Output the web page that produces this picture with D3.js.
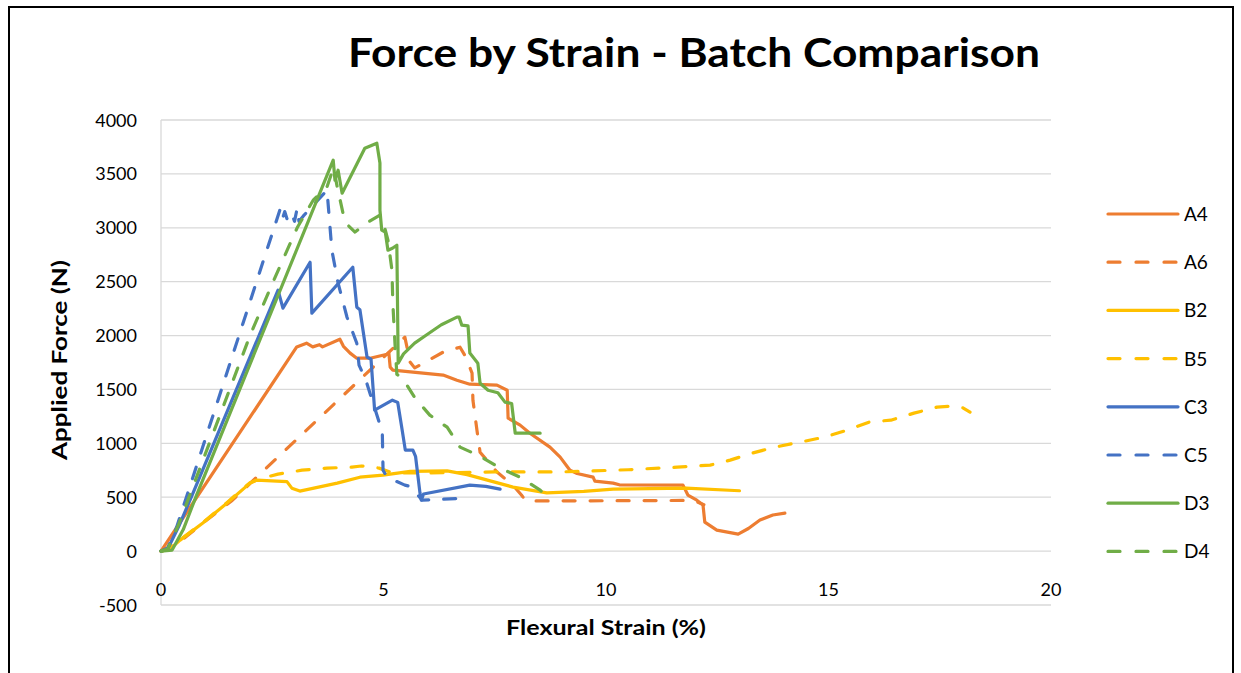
<!DOCTYPE html>
<html>
<head>
<meta charset="utf-8">
<script src="https://cdn.jsdelivr.net/npm/d3@7"></script>
<style>
    body { margin: 0; background: #fff; }
    text { font-family: Lato, "Open Sans", sans-serif; fill: #000; }
</style>
</head>
<body>
<svg id="chart" width="1241" height="673"></svg>
<script>
// values: [strain %, force N]
let a4 = [[0,0],[3.05,1894],[3.27,1929],[3.41,1895],[3.56,1915],[3.63,1895],[4.02,1966],[4.1,1900],[4.25,1837],[4.4,1790],[4.7,1790],[5.08,1827],[5.12,1840],[5.15,1707],[5.21,1679],[6.34,1633],[6.65,1586],[6.94,1549],[7.55,1540],[7.78,1493],[7.8,1234],[8.07,1169],[8.29,1094],[8.74,965],[8.97,872],[9.19,751],[9.35,720],[9.71,686],[9.75,650],[10.16,631],[10.3,615],[11.73,612],[11.84,520],[12.04,473],[12.18,427],[12.22,269],[12.49,195],[12.97,158],[13.2,210],[13.46,288],[13.75,335],[14.02,352]];
let a6 = [[0,0],[0.4,80],[1.0,280],[1.6,470],[2.15,686],[5.48,1985],[5.55,1850],[5.6,1753],[5.7,1700],[6.34,1846],[6.72,1892],[6.85,1800],[6.99,1651],[7.01,1400],[7.1,1122],[7.17,918],[7.55,733],[7.91,612],[8.1,520],[8.2,465],[11.8,470],[12.05,455],[12.2,430]];
let b2 = [[0,0],[0.2,20],[0.43,102],[0.94,260],[1.48,445],[2.0,631],[2.15,659],[2.83,645],[2.94,584],[3.12,557],[3.96,631],[4.47,686],[4.99,705],[5.6,740],[6.43,745],[6.88,710],[7.17,677],[7.91,594],[8.67,540],[9.5,555],[10.16,575],[11.8,584],[13.0,560]];
let b5 = [[0,0],[0.2,20],[0.43,105],[0.94,265],[1.48,450],[2.0,635],[2.3,680],[2.63,714],[3.17,751],[3.73,770],[4.29,779],[4.5,790],[4.9,770],[5.2,725],[6.0,725],[7.5,735],[9.0,735],[10.5,755],[11.6,779],[12.34,798],[12.79,844],[13.28,909],[13.8,965],[14.36,1011],[14.9,1057],[15.42,1122],[15.91,1197],[16.4,1215],[16.92,1280],[17.44,1336],[17.8,1345],[18.02,1330],[18.18,1290]];
let c3 = [[0,0],[0.15,20],[0.4,230],[0.7,520],[2.63,2421],[2.74,2254],[3.35,2680],[3.39,2208],[4.31,2634],[4.4,2263],[4.47,2240],[4.63,1800],[4.72,1780],[4.8,1308],[5.2,1400],[5.32,1380],[5.42,1122],[5.49,937],[5.66,937],[5.72,880],[5.82,538],[5.85,473],[5.9,530],[6.94,612],[7.3,600],[7.62,575]];
let c5 = [[0,0],[0.15,30],[0.35,220],[2.67,3163],[2.72,3070],[2.78,3150],[2.85,3060],[2.95,3120],[3.0,3060],[3.06,3180],[3.1,3060],[3.2,3110],[3.73,3349],[3.78,3098],[3.84,2790],[3.98,2486],[4.18,2170],[4.4,1929],[4.45,1725],[4.6,1590],[4.9,1200],[4.97,1168],[4.99,751],[5.08,686],[5.48,612],[5.6,600],[5.87,473],[6.88,492]];
let d3s = [[0,0],[0.25,10],[0.5,200],[0.8,520],[3.87,3627],[3.91,3441],[3.98,3534],[4.07,3321],[4.58,3738],[4.85,3785],[4.92,3600],[4.92,3163],[4.96,2978],[5.04,2960],[5.1,2792],[5.2,2810],[5.3,2838],[5.33,1744],[5.45,1830],[5.7,1930],[5.98,2010],[6.3,2100],[6.65,2171],[6.7,2171],[6.76,2096],[6.9,2090],[6.94,1837],[7.12,1744],[7.17,1558],[7.35,1493],[7.57,1470],[7.73,1382],[7.88,1370],[7.96,1094],[8.52,1094]];
let d4 = [[0,0],[0.15,20],[0.4,250],[2.0,2000],[2.52,2500],[3.06,3000],[3.42,3256],[3.73,3380],[3.88,3560],[3.95,3400],[4.09,3135],[4.2,3024],[4.36,2960],[4.65,3052],[4.92,3117],[4.99,3060],[5.1,2885],[5.19,2607],[5.21,2300],[5.26,1911],[5.3,1640],[5.44,1595],[5.71,1420],[6.04,1262],[6.43,1150],[6.72,965],[7.17,881],[7.62,770],[8.07,686],[8.52,566],[8.58,540]];

let seriesNames = ["A4", "A6", "B2", "B5", "C3", "C5", "D3", "D4"],
    seriesData = [a4, a6, b2, b5, c3, c5, d3s, d4];

let xTicks = [0, 5, 10, 15, 20],
    yTicks = [-500, 0, 500, 1000, 1500, 2000, 2500, 3000, 3500, 4000];

// styles
let colors = {A: "#ed7d31", B: "#ffc000", C: "#4472c4", D: "#70ad47"},
    dashPattern = "12,15";

let svg = d3.select("#chart");

let xScale = d3.scaleLinear()
    .domain([0, 20])
    .range([161, 1051]);

let yScale = d3.scaleLinear()
    .domain([-500, 4000])
    .range([605, 120]);

let line = d3.line()
    .x(d => xScale(d[0]))
    .y(d => yScale(d[1]));

// chart frame
svg.append("rect")
    .attr("x", 9)
    .attr("y", 7)
    .attr("width", 1224)
    .attr("height", 720)
    .attr("fill", "#fff")
    .attr("stroke", "#000")
    .attr("stroke-width", 2);

svg.append("text")
    .text("Force by Strain - Batch Comparison")
    .attr("x", 694)
    .attr("y", 67)
    .attr("text-anchor", "middle")
    .attr("font-size", 40)
    .attr("font-weight", "bold")
    .attr("textLength", 692)
    .attr("lengthAdjust", "spacingAndGlyphs");

// gridlines
svg.append("g")
    .selectAll("line")
    .data(yTicks)
    .enter()
    .append("line")
    .attr("x1", xScale(0))
    .attr("x2", xScale(20))
    .attr("y1", d => yScale(d))
    .attr("y2", d => yScale(d))
    .attr("stroke", "#d9d9d9")
    .attr("stroke-width", 1.3);

svg.append("line")
    .attr("x1", xScale(0))
    .attr("x2", xScale(0))
    .attr("y1", yScale(-500))
    .attr("y2", yScale(4000))
    .attr("stroke", "#d9d9d9")
    .attr("stroke-width", 1.3);

svg.append("g")
    .selectAll("text")
    .data(yTicks)
    .enter()
    .append("text")
    .text(d => d)
    .attr("x", 137)
    .attr("y", d => yScale(d) + 6.5)
    .attr("text-anchor", "end")
    .attr("font-size", 18);

svg.append("g")
    .selectAll("text")
    .data(xTicks)
    .enter()
    .append("text")
    .text(d => d)
    .attr("x", d => xScale(d))
    .attr("y", 596)
    .attr("text-anchor", "middle")
    .attr("font-size", 18);

svg.append("text")
    .text("Applied Force (N)")
    .attr("transform", "translate(67,360) rotate(-90)")
    .attr("text-anchor", "middle")
    .attr("font-size", 20)
    .attr("font-weight", "bold")
    .attr("textLength", 200)
    .attr("lengthAdjust", "spacingAndGlyphs");

svg.append("text")
    .text("Flexural Strain (%)")
    .attr("x", 606)
    .attr("y", 635)
    .attr("text-anchor", "middle")
    .attr("font-size", 20)
    .attr("font-weight", "bold")
    .attr("textLength", 200)
    .attr("lengthAdjust", "spacingAndGlyphs");

// series
seriesNames.forEach(function(name, i) {
    svg.append("path")
        .attr("d", line(seriesData[i]))
        .attr("fill", "none")
        .attr("stroke", colors[name[0]])
        .attr("stroke-width", 3.2)
        .attr("stroke-linejoin", "round")
        .attr("stroke-linecap", "round")
        .attr("stroke-dasharray", i % 2 ? dashPattern : null);
});

// legend
let legend = svg.append("g")
    .selectAll("g")
    .data(seriesNames)
    .enter()
    .append("g")
    .attr("transform", (d, i) => "translate(1108," + (214 + i * 48.2) + ")");

legend.append("line")
    .attr("x1", 0)
    .attr("x2", 70)
    .attr("stroke", d => colors[d[0]])
    .attr("stroke-width", 3.2)
    .attr("stroke-linecap", "round")
    .attr("stroke-dasharray", (d, i) => i % 2 ? "12,16" : null);

legend.append("text")
    .text(d => d)
    .attr("x", 76)
    .attr("y", 7)
    .attr("font-size", 19);
</script>
</body>
</html>
